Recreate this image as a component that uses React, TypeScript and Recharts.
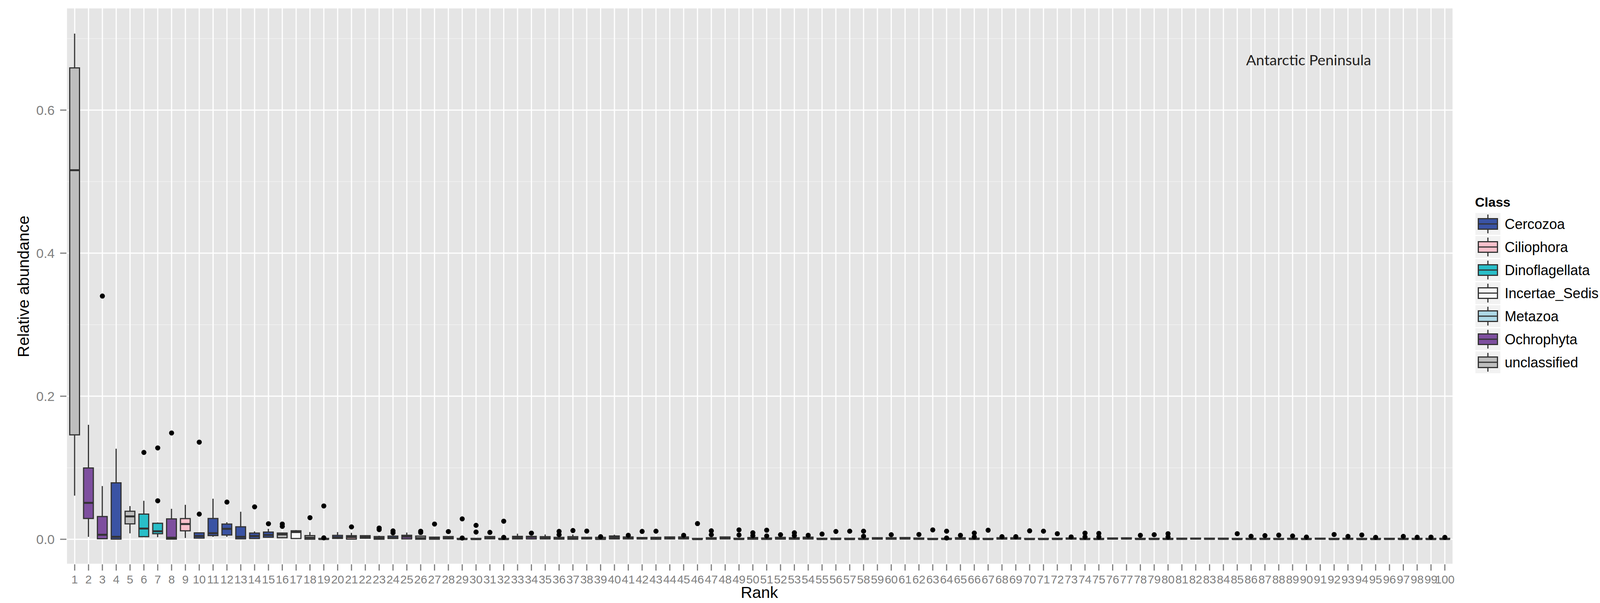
import {
  ComposedChart,
  Bar,
  Scatter,
  XAxis,
  YAxis,
  CartesianGrid,
  Cell,
} from "recharts";

const CER = "Cercozoa";
const CIL = "Ciliophora";
const DIN = "Dinoflagellata";
const INC = "Incertae_Sedis";
const MET = "Metazoa";
const OCH = "Ochrophyta";
const UNC = "unclassified";

const classNames = [CER, CIL, DIN, INC, MET, OCH, UNC];
const classColors = ["#3A53A4", "#F9C0CB", "#29BEC8", "#F8F8F8", "#ADD8E6", "#7E4F9F", "#BEBEBE"];

// class of each rank, 1..100
const rankClass = [
  UNC, OCH, OCH, CER, UNC, DIN, DIN, OCH, CIL, CER,
  CER, CER, CER, CER, CER, UNC, INC, UNC, UNC, CER,
  CIL, CER, UNC, CER, OCH, UNC, CER, CER, UNC, UNC,
  CER, UNC, INC, OCH, CER, UNC, UNC, CER, UNC, CER,
  CER, UNC, UNC, MET, CER, UNC, CER, CER, UNC, CER,
  UNC, CER, UNC, CER, UNC, UNC, UNC, UNC, CER, UNC,
  CER, UNC, UNC, UNC, CER, UNC, UNC, CER, CER, UNC,
  UNC, UNC, CER, UNC, UNC, CER, CER, UNC, UNC, UNC,
  CER, CER, UNC, UNC, UNC, CER, UNC, UNC, CER, UNC,
  CER, UNC, CER, UNC, UNC, CER, UNC, UNC, UNC, UNC,
];

const whiskerLow = [
  0.061, 0.0034, 0, 0, 0.0083, 0.0034, 0.0029, 0, 0.0018, 0.0012,
  0.0034, 0.0034, 0, 0.0005, 0.002, 0.0015, 0.0005, 0, 0, 0.001,
  0, 0.001, 0, 0.0005, 0, 0, 0, 0.0005, 0, 0,
  0.0005, 0, 0, 0, 0, 0, 0, 0, 0, 0,
  0.0004, 0, 0, 0.0004, 0.0004, 0, 0, 0.0004, 0, 0,
  0, 0, 0, 0, 0, 0, 0, 0, 0, 0,
  0, 0, 0, 0, 0, 0, 0, 0, 0, 0,
  0, 0, 0, 0, 0, 0, 0, 0, 0, 0,
  0, 0, 0, 0, 0, 0, 0, 0, 0, 0,
  0, 0, 0, 0, 0, 0, 0, 0, 0, 0,
];

const lowerHinge = [
  0.146, 0.0291, 0.0008, 0.0002, 0.0215, 0.0036, 0.0078, 0.0003, 0.0119, 0.0016,
  0.0052, 0.006, 0.0007, 0.0011, 0.0029, 0.0022, 0.0011, 0.0001, 0.0001, 0.0012,
  0.0003, 0.0015, 0.0001, 0.0011, 0.0005, 0.0001, 0.0001, 0.0006, 0.0001, 0.0001,
  0.0006, 0.0001, 0.0005, 0.0005, 0.0005, 0.0002, 0.0001, 0.0005, 0.0001, 0.0005,
  0.0005, 0.0005, 0.0001, 0.0005, 0.0005, 0.0001, 0.0001, 0.0005, 0.0001, 0.0001,
  0.0001, 0.0003, 0.0001, 0.0004, 0.0001, 0.0001, 0.0001, 0.0001, 0.0003, 0.0001,
  0.0004, 0.0001, 0.0001, 0.0001, 0.0001, 0.0001, 0.0001, 0.0002, 0.0002, 0.0001,
  0.0001, 0.0001, 0.0002, 0.0001, 0.0001, 0.0003, 0.0004, 0.0001, 0.0001, 0.0001,
  0.0001, 0.0003, 0.0001, 0.0001, 0.0001, 0.0001, 0.0001, 0.0001, 0.0001, 0.0001,
  0.0002, 0.0001, 0.0001, 0.0001, 0.0001, 0.0001, 0.0001, 0.0001, 0.0001, 0.0001,
];

const medians = [
  0.516, 0.0509, 0.0063, 0.0034, 0.032, 0.015, 0.0112, 0.0022, 0.0213, 0.0045,
  0.0085, 0.0146, 0.0034, 0.0045, 0.006, 0.0067, 0.0101, 0.0022, 0.0003, 0.0027,
  0.003, 0.0034, 0.0018, 0.002, 0.0038, 0.0016, 0.0008, 0.002, 0.0002, 0.0002,
  0.002, 0.0002, 0.0024, 0.0033, 0.002, 0.001, 0.0015, 0.0015, 0.0005, 0.0024,
  0.0015, 0.0012, 0.001, 0.0015, 0.0018, 0.0002, 0.0008, 0.0015, 0.0003, 0.001,
  0.0005, 0.0012, 0.0008, 0.0015, 0.0003, 0.0003, 0.0002, 0.0003, 0.0012, 0.0008,
  0.0012, 0.0006, 0.0002, 0.0003, 0.0008, 0.0004, 0.0002, 0.001, 0.001, 0.0002,
  0.0002, 0.0003, 0.0008, 0.0002, 0.0002, 0.0008, 0.001, 0.0003, 0.0003, 0.0003,
  0.0006, 0.0008, 0.0006, 0.0006, 0.0002, 0.0004, 0.0004, 0.0003, 0.0005, 0.0002,
  0.0007, 0.0002, 0.0005, 0.0002, 0.0002, 0.0004, 0.0003, 0.0003, 0.0002, 0.0003,
];

const upperHinge = [
  0.659, 0.0997, 0.0318, 0.0789, 0.0392, 0.0352, 0.0224, 0.0285, 0.0289, 0.009,
  0.0291, 0.0213, 0.0175, 0.0087, 0.0101, 0.0087, 0.0119, 0.0052, 0.0012, 0.0054,
  0.005, 0.005, 0.0038, 0.0045, 0.0056, 0.0045, 0.003, 0.0038, 0.0012, 0.0012,
  0.0038, 0.0012, 0.004, 0.004, 0.0036, 0.0027, 0.0036, 0.0027, 0.0027, 0.0046,
  0.0033, 0.0024, 0.0027, 0.0033, 0.0033, 0.0012, 0.0022, 0.0033, 0.0014, 0.0024,
  0.0018, 0.0027, 0.0022, 0.003, 0.0014, 0.0015, 0.0014, 0.0014, 0.0022, 0.0022,
  0.0024, 0.0018, 0.0012, 0.0014, 0.0022, 0.0015, 0.0012, 0.0022, 0.0022, 0.0012,
  0.0012, 0.0014, 0.0018, 0.0012, 0.0012, 0.0018, 0.002, 0.0013, 0.0013, 0.0013,
  0.0015, 0.0016, 0.0015, 0.0015, 0.0012, 0.0013, 0.0013, 0.0012, 0.0014, 0.0012,
  0.0015, 0.0012, 0.0014, 0.0012, 0.0012, 0.0013, 0.0013, 0.0013, 0.0012, 0.0013,
];

const whiskerHigh = [
  0.707, 0.16, 0.0744, 0.1266, 0.0464, 0.0538, 0.0235, 0.0426, 0.0482, 0.0096,
  0.0567, 0.0238, 0.0385, 0.011, 0.0146, 0.0094, 0.0128, 0.0101, 0.0012, 0.01,
  0.009, 0.005, 0.005, 0.0045, 0.0094, 0.0045, 0.003, 0.0038, 0.0012, 0.0012,
  0.0045, 0.0012, 0.0078, 0.004, 0.0067, 0.0027, 0.0067, 0.0027, 0.0027, 0.0064,
  0.0033, 0.0024, 0.0027, 0.0033, 0.0033, 0.0012, 0.0022, 0.0036, 0.0014, 0.0024,
  0.0018, 0.0027, 0.0022, 0.003, 0.0014, 0.0015, 0.0014, 0.0014, 0.0022, 0.0022,
  0.0024, 0.0018, 0.0012, 0.0014, 0.0022, 0.0015, 0.0012, 0.0022, 0.0022, 0.0012,
  0.0012, 0.0014, 0.0018, 0.0012, 0.0012, 0.0018, 0.002, 0.0013, 0.0013, 0.0013,
  0.0018, 0.0016, 0.0015, 0.0015, 0.0012, 0.0013, 0.0013, 0.0012, 0.0014, 0.0012,
  0.0015, 0.0012, 0.0014, 0.0012, 0.0012, 0.0013, 0.0013, 0.0013, 0.0012, 0.0013,
];

// [rank, value]
const outliers: [number, number][] = [
  [3, 0.34], [6, 0.1214], [7, 0.1277], [7, 0.0538], [8, 0.1486],
  [10, 0.1358], [10, 0.0352], [12, 0.052], [14, 0.0453], [15, 0.0217],
  [16, 0.0213], [16, 0.018], [18, 0.0302], [19, 0.0466], [19, 0.002],
  [21, 0.0173], [23, 0.0157], [23, 0.0135], [24, 0.0117], [24, 0.009],
  [26, 0.0112], [26, 0.0095], [27, 0.0213], [28, 0.0108], [29, 0.0285],
  [29, 0.0018], [30, 0.0195], [30, 0.0101], [31, 0.0096], [32, 0.0253],
  [32, 0.0027], [34, 0.0086], [36, 0.011], [36, 0.0064], [37, 0.0122],
  [38, 0.0115], [39, 0.0036], [41, 0.0055], [42, 0.011], [43, 0.0113],
  [45, 0.0055], [46, 0.0219], [47, 0.0118], [47, 0.0064], [49, 0.0131],
  [49, 0.006], [50, 0.0091], [50, 0.0051], [51, 0.0127], [51, 0.0046],
  [52, 0.0064], [53, 0.0091], [53, 0.0051], [54, 0.0055], [55, 0.0073],
  [56, 0.0109], [57, 0.0113], [58, 0.0113], [58, 0.0042], [60, 0.0064],
  [62, 0.0067], [63, 0.0131], [64, 0.0113], [64, 0.0018], [65, 0.0055],
  [66, 0.0087], [66, 0.0033], [67, 0.0127], [68, 0.0036], [69, 0.0036],
  [70, 0.0118], [71, 0.0113], [72, 0.0078], [73, 0.0033], [74, 0.0086],
  [74, 0.0033], [75, 0.0082], [75, 0.0033], [78, 0.0055], [79, 0.0064],
  [80, 0.0078], [80, 0.0033], [85, 0.0078], [86, 0.0042], [87, 0.0051],
  [88, 0.0058], [89, 0.0046], [90, 0.0031], [92, 0.0067], [93, 0.004],
  [94, 0.006], [95, 0.0027], [97, 0.004], [98, 0.0028], [99, 0.003],
  [100, 0.0027],
];

const yTicks = [0, 0.2, 0.4, 0.6];
const yMinorTicks = [0.1, 0.3, 0.5, 0.7];

const ranks = rankClass.map((_, i) => String(i + 1));

const data = ranks.map((rank, i) => {
  const pts = outliers.filter((o) => o[0] === i + 1).map((o) => o[1]);
  return {
    rank,
    cls: rankClass[i],
    wh: [whiskerLow[i], whiskerHigh[i]],
    box: [lowerHinge[i], upperHinge[i]],
    med: medians[i],
    o1: pts.length > 0 ? pts[0] : null,
    o2: pts.length > 1 ? pts[1] : null,
  };
});

const colorOf = (cls: string) => classColors[classNames.indexOf(cls)];

const FONT = "'Liberation Sans', Arial, Helvetica, sans-serif";
const W = 4157;
const H = 1543;
const xPad = { left: 3.5, right: 3.5 };

const MedianMark = (props: any) => {
  const { cx, cy } = props;
  if (!Number.isFinite(cx) || !Number.isFinite(cy)) return <g />;
  return (
    <line x1={cx - 12.5} x2={cx + 12.5} y1={cy} y2={cy} stroke="#333333" strokeWidth={5} />
  );
};

const outlierDot = (key: string) => (props: any) => {
  const { cx, cy, payload } = props;
  if (!payload || payload[key] == null || !Number.isFinite(cy)) return <g />;
  return <circle cx={cx} cy={cy} r={6.5} fill="#000000" />;
};

export default function App() {
  return (
    <div style={{ position: "absolute", left: 0, top: 0, width: W, height: H, background: "#fff" }}>
      <ComposedChart
        width={W}
        height={H}
        data={data}
        margin={{ top: 20, right: 437, bottom: 0, left: 0 }}
      >
        <CartesianGrid
          fill="#E5E5E5"
          fillOpacity={1}
          vertical={false}
          horizontalValues={yMinorTicks}
          stroke="#F2F2F2"
          strokeWidth={1.5}
        />
        <CartesianGrid stroke="#FFFFFF" strokeWidth={3} />
        <XAxis
          dataKey="rank"
          type="category"
          interval={0}
          padding={xPad}
          height={99}
          axisLine={false}
          tickSize={16}
          tickMargin={12}
          tickLine={{ stroke: "#7F7F7F", strokeWidth: 3 }}
          tick={{ fill: "#7F7F7F", fontSize: 30, fontFamily: FONT }}
        />
        <XAxis xAxisId="w" dataKey="rank" type="category" padding={xPad} hide />
        <XAxis xAxisId="b" dataKey="rank" type="category" padding={xPad} hide />
        <YAxis
          type="number"
          domain={[-0.035, 0.743]}
          allowDataOverflow
          ticks={yTicks}
          tickFormatter={(v: number) => v.toFixed(1)}
          width={170}
          axisLine={false}
          tickSize={16}
          tickMargin={14}
          tickLine={{ stroke: "#7F7F7F", strokeWidth: 3 }}
          tick={{ fill: "#7F7F7F", fontSize: 34, fontFamily: FONT }}
        />
        <Bar xAxisId="w" dataKey="wh" barSize={3} fill="#333333" isAnimationActive={false} />
        <Bar
          xAxisId="b"
          dataKey="box"
          barSize={25}
          stroke="#333333"
          strokeWidth={3}
          isAnimationActive={false}
        >
          {data.map((d) => (
            <Cell key={d.rank} fill={colorOf(d.cls)} />
          ))}
        </Bar>
        <Scatter dataKey="med" shape={MedianMark} isAnimationActive={false} />
        <Scatter dataKey="o1" shape={outlierDot("o1")} isAnimationActive={false} />
        <Scatter dataKey="o2" shape={outlierDot("o2")} isAnimationActive={false} />
      </ComposedChart>

      <svg
        width={W}
        height={H}
        style={{ position: "absolute", left: 0, top: 0, pointerEvents: "none" }}
        fontFamily={FONT}
      >
        <text
          x={60}
          y={733}
          transform="rotate(-90 60 733)"
          textAnchor="middle"
          dominantBaseline="central"
          fontSize={41}
          fill="#000"
        >
          Relative abundance
        </text>
        <text x={1944} y={1530} textAnchor="middle" fontSize={41} fill="#000">
          Rank
        </text>
        <text
          x={3350}
          y={167}
          textAnchor="middle"
          fontFamily="Lato, 'Open Sans', sans-serif"
          fontSize={36}
          fill="#231F20"
          textLength={320}
          lengthAdjust="spacingAndGlyphs"
        >
          Antarctic Peninsula
        </text>

        <text x={3776} y={529} fontSize={34} fontWeight="bold" fill="#000">
          Class
        </text>
        {classNames.map((name, i) => {
          const top = 545 + i * 59;
          const mid = top + 28;
          return (
            <g key={name}>
              <rect x={3777} y={top} width={64} height={56} fill="#F2F2F2" />
              <line x1={3809} x2={3809} y1={top + 4} y2={top + 52} stroke="#333333" strokeWidth={3} />
              <rect
                x={3784.5}
                y={top + 14.5}
                width={49}
                height={27}
                fill={classColors[i]}
                stroke="#333333"
                strokeWidth={3}
              />
              <line x1={3784.5} x2={3833.5} y1={mid} y2={mid} stroke="#333333" strokeWidth={3} />
              <text x={3852} y={mid} dominantBaseline="central" fontSize={36} fill="#000">
                {name}
              </text>
            </g>
          );
        })}
      </svg>
    </div>
  );
}
